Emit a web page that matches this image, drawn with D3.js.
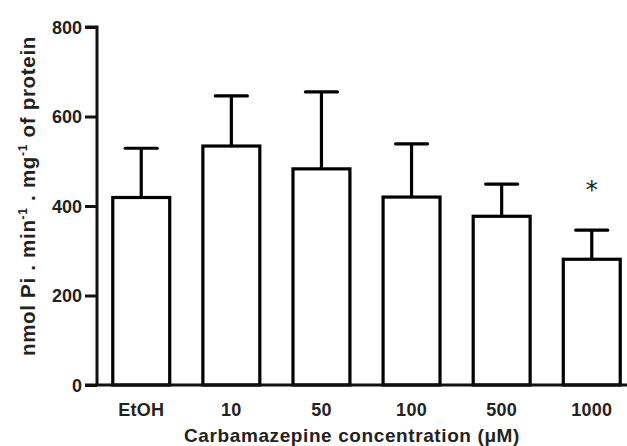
<!DOCTYPE html>
<html><head><meta charset="utf-8">
<script src="https://cdn.jsdelivr.net/npm/d3@7"></script>
<style>body{margin:0;background:#fff}svg{display:block}text{font-family:"Liberation Sans",Arial,sans-serif;font-weight:bold;fill:#222}</style>
</head><body><svg id="c" width="627" height="446"></svg>
<script>
const categories = ["EtOH","10","50","100","500","1000"];
const means = [419, 534, 483, 420, 377, 281];
const errUpper = [529, 646, 655, 539, 449, 346];
const significant = [false,false,false,false,false,true];
const yTicks = [0,200,400,600,800];

const svg = d3.select("#c");
const x = d3.scaleBand().domain(categories).range([97,636]).paddingInner(0.368).paddingOuter(0.175);
const y = d3.scaleLinear().domain([0,800]).range([385,27]);

const bw = x.bandwidth();
const g = svg.append("g");
categories.forEach((c,i)=>{
  const cx = x(c)+bw/2;
  g.append("line").attr("x1",cx).attr("x2",cx).attr("y1",y(means[i])).attr("y2",y(errUpper[i]))
    .attr("stroke","#000").attr("stroke-width",3.2);
  g.append("line").attr("x1",cx-16).attr("x2",cx+16).attr("y1",y(errUpper[i])).attr("y2",y(errUpper[i]))
    .attr("stroke","#000").attr("stroke-width",3.2).attr("stroke-linecap","round");
  if(significant[i]) g.append("text").attr("x",cx).attr("y",y(errUpper[i])-32).attr("text-anchor","middle")
    .style("font-size","25px").style("font-weight","normal").style("font-family","'DejaVu Sans',sans-serif").text("*");
});
g.selectAll("rect").data(categories).join("rect")
  .attr("x",d=>x(d)).attr("width",bw)
  .attr("y",(d,i)=>y(means[i])).attr("height",(d,i)=>y(0)-y(means[i]))
  .attr("fill","#fff").attr("stroke","#000").attr("stroke-width",3.2);

const ya = svg.append("g").attr("transform","translate(97,0)")
  .call(d3.axisLeft(y).tickValues(yTicks).tickSize(12).tickPadding(3).tickFormat(d3.format("d")));
ya.select(".domain").attr("stroke","#111").attr("stroke-width",3).attr("d",`M-12,${y(800)}H0V${y(0)}`);
ya.selectAll(".tick line").attr("stroke","#111").attr("stroke-width",3);
ya.selectAll(".tick text").style("font-size","18px").attr("dy","0.35em").attr("fill","#222");

svg.append("line").attr("x1",85).attr("x2",627).attr("y1",y(0)).attr("y2",y(0)).attr("stroke","#111").attr("stroke-width",3);
svg.append("g").selectAll("text").data(categories).join("text")
  .attr("x",d=>x(d)+bw/2).attr("y",416).attr("text-anchor","middle").style("font-size","18px").style("letter-spacing","0.3px").text(d=>d);

svg.append("text").attr("x",352).attr("y",441.5).attr("text-anchor","middle").style("font-size","19px").style("letter-spacing","0.6px")
  .text("Carbamazepine concentration (\u03bcM)");

const yl = svg.append("text").attr("transform","translate(35,196) rotate(-90)").attr("text-anchor","middle").style("font-size","20.5px").style("letter-spacing","0.7px");
yl.append("tspan").text("nmol Pi . min");
yl.append("tspan").attr("dy",-8).style("font-size","12px").text("-1");
yl.append("tspan").attr("dy",8).text(" . mg");
yl.append("tspan").attr("dy",-8).style("font-size","12px").text("-1");
yl.append("tspan").attr("dy",8).text(" of protein");
</script></body></html>
